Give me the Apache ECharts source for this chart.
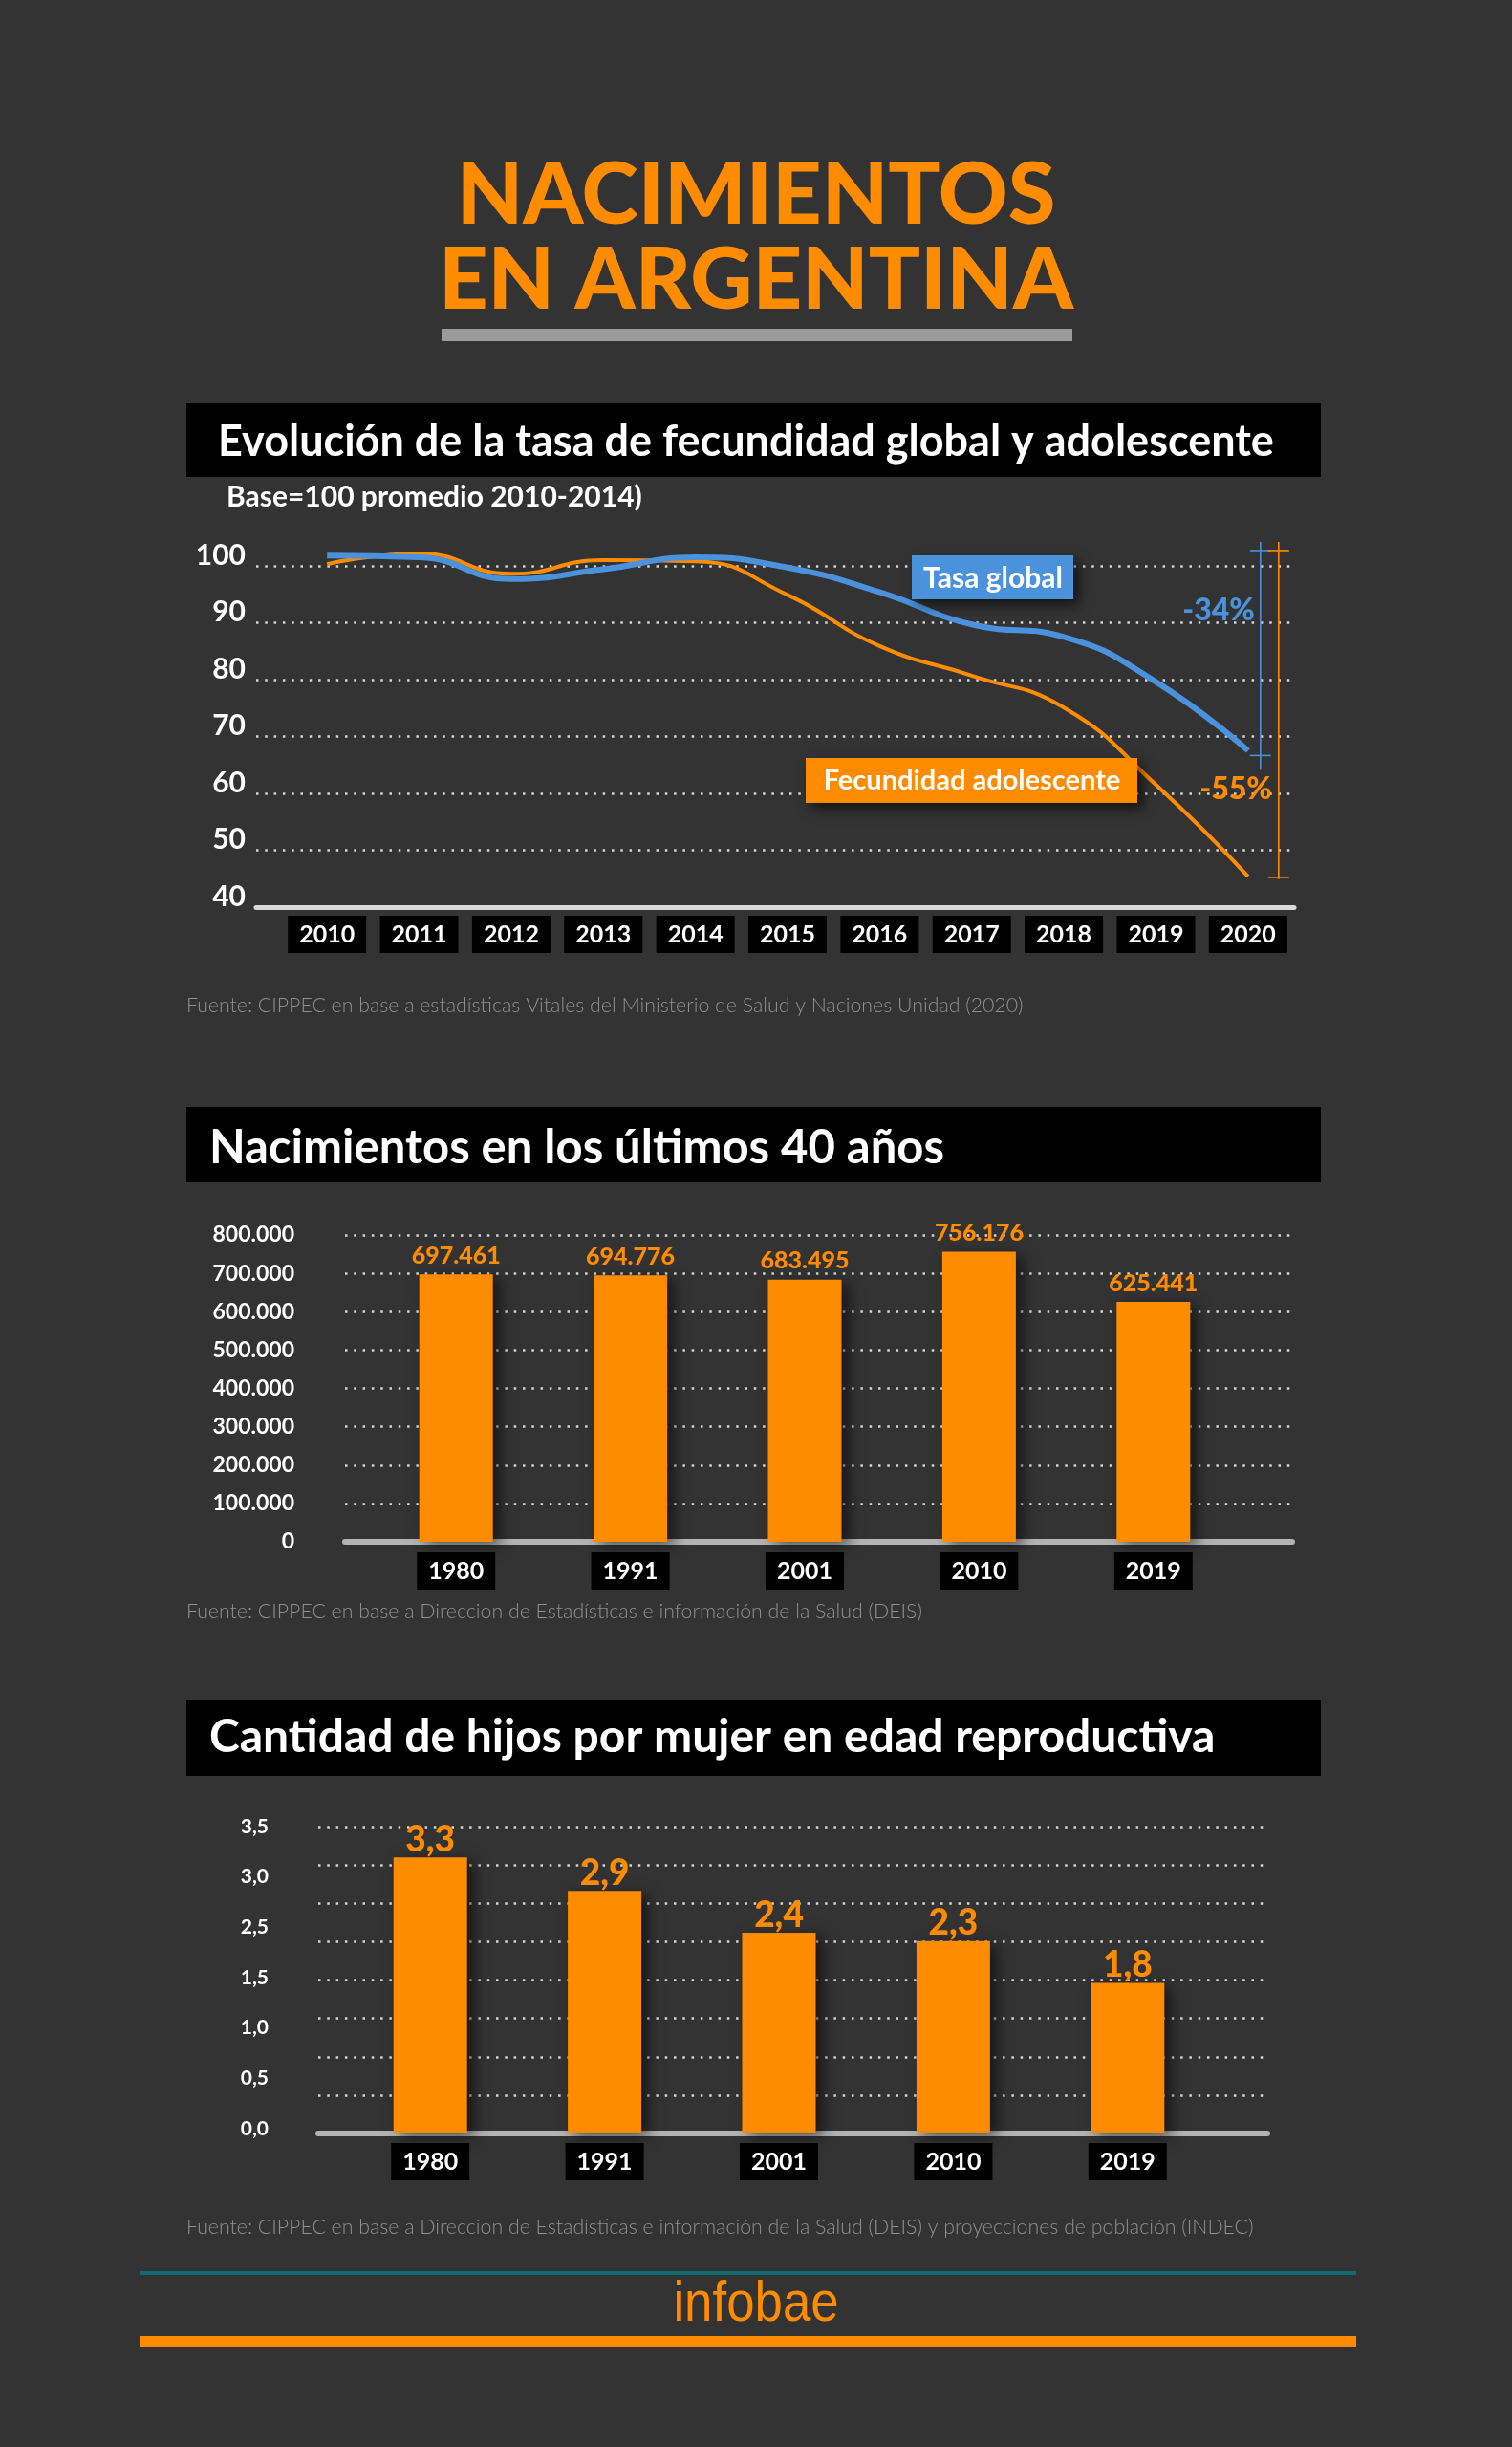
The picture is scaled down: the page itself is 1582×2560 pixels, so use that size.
<!DOCTYPE html>
<html>
<head>
<meta charset="utf-8">
<script src="https://cdn.jsdelivr.net/npm/echarts@6/dist/echarts.min.js"></script>
<style>
html,body{margin:0;padding:0;background:#333333;}
#c{width:1582px;height:2560px;}
</style>
</head>
<body>
<div id="c"></div>
<script>
// ---- data ----
const years1 = ['2010','2011','2012','2013','2014','2015','2016','2017','2018','2019','2020'];
const tasaGlobal = [101.8, 101.5, 97.7, 99.4, 101.5, 99.7, 95.4, 89.7, 87.5, 79.6, 67.5];
const fecAdol = [100.3, 102.2, 98.6, 101.0, 100.8, 94.9, 85.9, 80.7, 75.1, 61.5, 45.4];

const years2 = ['1980','1991','2001','2010','2019'];
const nacimientos = [697461, 694776, 683495, 756176, 625441];

const years3 = ['1980','1991','2001','2010','2019'];
const hijos = [3.3, 2.9, 2.4, 2.3, 1.8];
const hijosTicks = ['0,0','0,5','1,0','1,5','2,5','3,0','3,5'];

// ---- styles ----
const BG = '#333333';
const ORANGE = '#ff8c00';
const BLUE = '#4a92dc';
const FONT = 'Lato, "Noto Sans", sans-serif';
const dotted = {show:true, lineStyle:{color:'#d6d6d6', width:2.5, type:[2.5,6.8]}};
const fmtThousands = n => String(n).replace(/\B(?=(\d{3})+(?!\d))/g, '.');

const yearBox = (margin) => ({
  interval:0, margin: margin, color:'#fff', fontFamily: FONT, fontWeight:'bold',
  fontSize:25, lineHeight:25, backgroundColor:'#000', padding:[7,12,7,12]
});
const hidden = {show:false};

const chart = echarts.init(document.getElementById('c'));

const option = {
  backgroundColor: BG,
  animation: false,
  grid: [
    {left:268, top:592, width:1086, height:357, outerBoundsMode:'none'},
    {left:294, top:592, width:1060, height:357, outerBoundsMode:'none'},
    {left:361, top:1292, width:991, height:321, outerBoundsMode:'none'},
    {left:386, top:1292, width:912, height:321, outerBoundsMode:'none'},
    {left:333, top:1911, width:993, height:321, outerBoundsMode:'none'},
    {left:333, top:1911, width:993, height:316, outerBoundsMode:'none'},
    {left:359, top:1911, width:912, height:321, outerBoundsMode:'none'}
  ],
  xAxis: [
    {gridIndex:0, type:'value', min:-0.768, max:10.5, axisLine:{show:true, onZero:false, lineStyle:{color:'#d9d9d9', width:5}}, axisTick:hidden, axisLabel:hidden, splitLine:hidden},
    {gridIndex:1, type:'category', data:years1, boundaryGap:true, axisLine:hidden, axisTick:hidden, axisLabel:yearBox(9)},
    {gridIndex:2, type:'value', min:0, max:1, axisLine:{show:true, onZero:false, lineStyle:{color:'#b3b3b3', width:6}}, axisTick:hidden, axisLabel:hidden, splitLine:hidden},
    {gridIndex:3, type:'category', data:years2, boundaryGap:true, axisLine:hidden, axisTick:hidden, axisLabel:yearBox(11)},
    {gridIndex:4, type:'value', min:0, max:1, axisLine:{show:true, onZero:false, lineStyle:{color:'#b3b3b3', width:6}}, axisTick:hidden, axisLabel:hidden, splitLine:hidden},
    {gridIndex:5, type:'value', min:0, max:1, show:false},
    {gridIndex:6, type:'category', data:years3, boundaryGap:true, axisLine:hidden, axisTick:hidden, axisLabel:yearBox(10)}
  ],
  yAxis: [
    {gridIndex:0, type:'value', min:40, max:100, interval:10, axisLine:hidden, axisTick:hidden,
     axisLabel:{margin:11, color:'#fff', fontFamily:FONT, fontWeight:'bold', fontSize:30, verticalAlign:'bottom', lineHeight:22},
     splitLine:dotted},
    {gridIndex:1, type:'value', min:40, max:100, show:false},
    {gridIndex:2, type:'value', min:0, max:800000, interval:100000, axisLine:hidden, axisTick:hidden,
     axisLabel:{margin:53, color:'#fff', fontFamily:FONT, fontWeight:'bold', fontSize:23, formatter:v=>fmtThousands(v)},
     splitLine:dotted},
    {gridIndex:3, type:'value', min:0, max:800000, show:false},
    {gridIndex:4, type:'value', min:0, max:8, interval:1, axisLine:hidden, axisTick:hidden, axisLabel:hidden, splitLine:dotted},
    {gridIndex:5, type:'value', min:0, max:hijosTicks.length-1, interval:1, axisLine:hidden, axisTick:hidden, splitLine:hidden,
     axisLabel:{margin:52, color:'#fff', fontFamily:FONT, fontWeight:'bold', fontSize:21, formatter:v=>hijosTicks[Math.round(v)] || ''}},
    {gridIndex:6, type:'value', min:0, max:3.67, show:false}
  ],
  series: [
    {type:'line', name:'Fecundidad adolescente', xAxisIndex:1, yAxisIndex:1, data:fecAdol, smooth:0.5, clip:false,
     showSymbol:false, symbol:'none', lineStyle:{color:ORANGE, width:4}, z:3},
    {type:'line', name:'Tasa global', xAxisIndex:1, yAxisIndex:1, data:tasaGlobal, smooth:0.5, clip:false,
     showSymbol:false, symbol:'none', lineStyle:{color:BLUE, width:6}, z:4},
    {type:'bar', xAxisIndex:3, yAxisIndex:3, data:nacimientos, barWidth:77,
     itemStyle:{color:ORANGE, shadowBlur:14, shadowColor:'rgba(0,0,0,0.55)', shadowOffsetX:7, shadowOffsetY:4},
     label:{show:true, position:'top', distance:7, color:ORANGE, fontFamily:FONT, fontWeight:900, fontSize:25,
            formatter:p=>fmtThousands(p.value)}},
    {type:'bar', xAxisIndex:6, yAxisIndex:6, data:hijos, barWidth:77,
     itemStyle:{color:ORANGE, shadowBlur:14, shadowColor:'rgba(0,0,0,0.55)', shadowOffsetX:7, shadowOffsetY:4},
     label:{show:true, position:'top', distance:0, color:ORANGE, fontFamily:FONT, fontWeight:900, fontSize:37,
            formatter:p=>p.value.toFixed(1).replace('.', ',')}}
  ]
};
chart.setOption(option);

// ---- annotations (computed from data through the axes) ----
const last = years1[years1.length-1];
const topVal = Math.max(Math.max(...tasaGlobal), Math.max(...fecAdol)) + 0.5;
const pBlueEnd = chart.convertToPixel({xAxisIndex:1, yAxisIndex:1}, [last, tasaGlobal[tasaGlobal.length-1]]);
const pOrEnd = chart.convertToPixel({xAxisIndex:1, yAxisIndex:1}, [last, fecAdol[fecAdol.length-1]]);
const pTop = chart.convertToPixel({xAxisIndex:1, yAxisIndex:1}, [last, topVal]);
const bX = pBlueEnd[0] + 13, oX = pBlueEnd[0] + 32;
const pctBlue = Math.round((tasaGlobal[tasaGlobal.length-1]/tasaGlobal[0] - 1) * 100) + '%';
const pctOr = Math.round((fecAdol[fecAdol.length-1]/fecAdol[0] - 1) * 100) + '%';

function txt(x, y, text, font, fill, align, valign) {
  return {type:'text', z:10, style:{x, y, text, font, fill, align:align||'left', textAlign:align||'left',
          verticalAlign:valign||'middle', textVerticalAlign:valign||'middle'}};
}
function rect(x, y, w, h, fill, shadow) {
  const st = {fill};
  if (shadow) { st.shadowBlur = 12; st.shadowOffsetX = 6; st.shadowOffsetY = 6; st.shadowColor = 'rgba(0,0,0,0.6)'; }
  return {type:'rect', z:9, shape:{x, y, width:w, height:h}, style:st};
}
function seg(x1, y1, x2, y2, color, w) {
  return {type:'line', z:9, shape:{x1, y1, x2, y2}, style:{stroke:color, lineWidth:w||1.6}};
}
const logo = txt(0, 0, 'infobae', '60px "Liberation Sans", Arial, sans-serif', ORANGE, 'center');
logo.x = 791; logo.y = 2411; logo.scaleX = 0.88;

const SRC = '300 21.3px Lato';
const graphics = [
  // main title
  txt(791, 205, 'NACIMIENTOS', '900 90px Lato', ORANGE, 'center'),
  txt(791, 294, 'EN ARGENTINA', '900 90px Lato', ORANGE, 'center'),
  rect(462, 344, 660, 13, '#9b9b9b'),
  // section 1
  rect(195, 422, 1187, 77, '#000'),
  txt(228, 462, 'Evolución de la tasa de fecundidad global y adolescente', 'bold 45px Lato', '#fff'),
  txt(237, 520, 'Base=100 promedio 2010-2014)', 'bold 30px Lato', '#fff'),
  rect(954, 581, 169, 46, BLUE, true),
  txt(1039, 605, 'Tasa global', 'bold 30px Lato', '#fff', 'center'),
  rect(843, 793, 347, 47, ORANGE, true),
  txt(1017, 817, 'Fecundidad adolescente', 'bold 29px Lato', '#fff', 'center'),
  // brackets
  seg(bX, pTop[1]-9, bX, pBlueEnd[1]+20, BLUE),
  seg(bX-11, pTop[1], bX+11, pTop[1], BLUE),
  seg(bX-11, pBlueEnd[1]+5, bX+11, pBlueEnd[1]+5, BLUE),
  seg(oX, pTop[1]-9, oX, pOrEnd[1]+3, ORANGE),
  seg(oX-11, pTop[1], oX+11, pTop[1], ORANGE),
  seg(oX-11, pOrEnd[1]+1, oX+11, pOrEnd[1]+1, ORANGE),
  txt(bX-6, 639, pctBlue, '900 32px Lato', BLUE, 'right'),
  txt(oX-7, 826, pctOr, '900 32px Lato', ORANGE, 'right'),
  txt(195, 1052, 'Fuente: CIPPEC en base a estadísticas Vitales del Ministerio de Salud y Naciones Unidad (2020)', SRC, '#8f8f8f'),
  // section 2
  rect(195, 1158, 1187, 79, '#000'),
  txt(219, 1201, 'Nacimientos en los últimos 40 años', 'bold 49px Lato', '#fff'),
  txt(195, 1686, 'Fuente: CIPPEC en base a Direccion de Estadísticas e información de la Salud (DEIS)', SRC, '#8f8f8f'),
  // section 3
  rect(195, 1779, 1187, 79, '#000'),
  txt(219, 1818, 'Cantidad de hijos por mujer en edad reproductiva', 'bold 48px Lato', '#fff'),
  txt(195, 2330, 'Fuente: CIPPEC en base a Direccion de Estadísticas e información de la Salud (DEIS) y proyecciones de población (INDEC)', SRC, '#8f8f8f'),
  // footer
  rect(146, 2376, 1273, 4, '#0f6a72'),
  logo,
  rect(146, 2444, 1273, 11, ORANGE)
];
chart.setOption({graphic: graphics});
</script>
</body>
</html>
